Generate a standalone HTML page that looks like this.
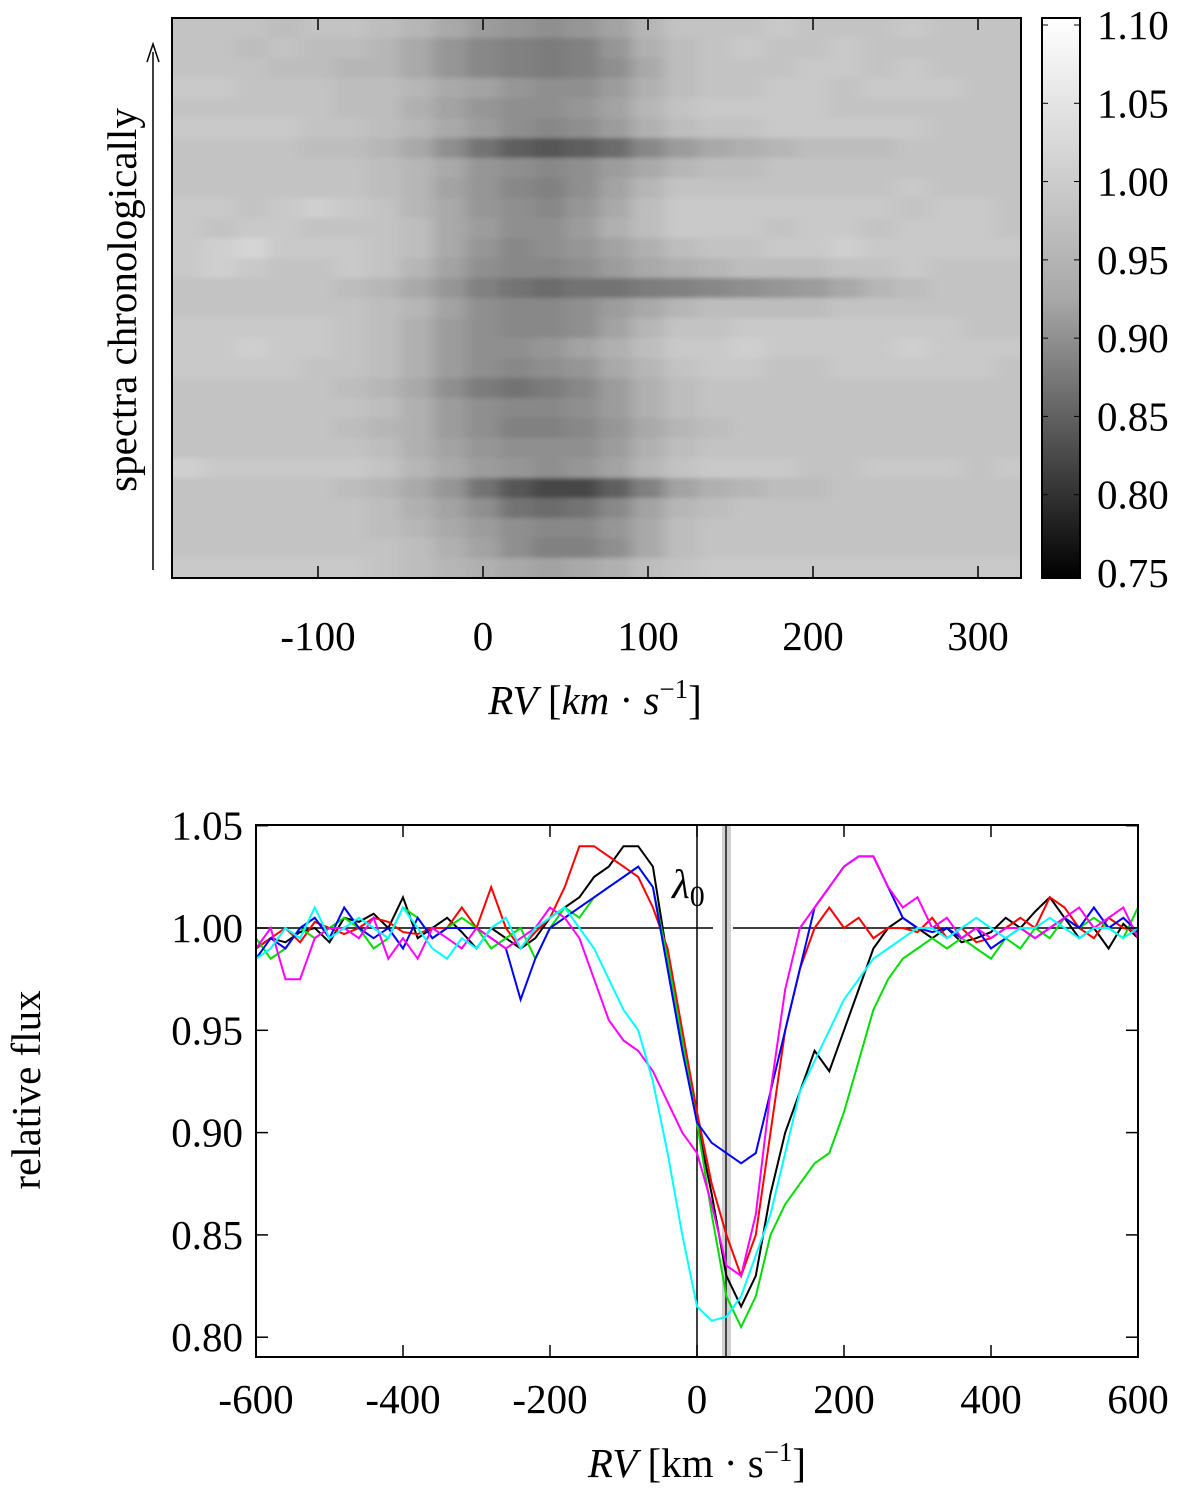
<!DOCTYPE html>
<html><head><meta charset="utf-8"><style>
html,body{margin:0;padding:0;background:#fff}
svg text{font-family:"Liberation Serif",serif;font-size:41px;fill:#000}
</style></head><body>
<svg id="s" width="1200" height="1491" viewBox="0 0 1200 1491" xmlns="http://www.w3.org/2000/svg">
<defs>
<clipPath id="hc"><rect x="172" y="18" width="849" height="560"/></clipPath>
<clipPath id="lc"><rect x="256" y="825" width="882" height="532"/></clipPath>
<filter id="bl" x="-5%" y="-5%" width="110%" height="110%"><feGaussianBlur stdDeviation="7 2"/></filter>
<linearGradient id="cb" x1="0" y1="0" x2="0" y2="1"><stop offset="0" stop-color="#fff"/><stop offset="0.5" stop-color="#a8a8a8"/><stop offset="1" stop-color="#000"/></linearGradient>
</defs>
<g id="heat" clip-path="url(#hc)"></g>
<rect x="172" y="18" width="849" height="560" fill="none" stroke="#000" stroke-width="2"/>
<g id="htick"></g>
<text x="595" y="714" text-anchor="middle"><tspan font-style="italic">RV</tspan> [<tspan font-style="italic">km</tspan> · <tspan font-style="italic">s</tspan><tspan font-size="27" dy="-16">−1</tspan><tspan dy="16">]</tspan></text>
<line x1="153" y1="570" x2="153" y2="52" stroke="#000" stroke-width="1.5"/>
<path d="M147,62 L153,44 L159,62" fill="none" stroke="#000" stroke-width="1.5"/>
<text transform="translate(136,300) rotate(-90)" text-anchor="middle">spectra chronologically</text>
<rect x="1042" y="18" width="38" height="560" fill="url(#cb)" stroke="#000" stroke-width="2"/>
<g id="cbt"></g>

<g id="lp"></g>
<text transform="translate(40,1090) rotate(-90)" text-anchor="middle">relative flux</text>
<text x="697" y="1477" text-anchor="middle"><tspan font-style="italic">RV</tspan> [km · s<tspan font-size="27" dy="-16">−1</tspan><tspan dy="16">]</tspan></text>
<text x="672" y="898" font-style="italic" font-size="44">λ<tspan font-style="normal" font-size="30" dy="8">0</tspan></text>
</svg>
<script>
// heatmap data
const hmRV=[-180,-160,-140,-120,-100,-80,-60,-40,-20,0,20,40,60,80,100,120,140,160,180,200,220,240,260,280,300,320];
const hmRows=[
[100,100,100,99,100,100,99,98,96,94,93,92,93,95,98,100,100,100,101,100,100,100,101,100,100,100],
[100,100,99,100,99,99,98,96,93,91,90,89,90,93,97,99,100,101,100,100,101,100,100,100,100,100],
[100,100,100,99,99,98,98,96,93,91,90,89,90,92,96,99,100,100,100,101,101,100,101,100,100,100],
[101,101,100,100,100,99,99,98,96,95,93,92,92,94,97,99,100,100,101,101,100,101,101,101,100,100],
[100,100,100,100,100,99,99,97,95,93,92,92,93,95,98,100,101,101,101,101,100,100,100,100,100,100],
[101,101,101,101,100,100,99,98,96,94,92,91,92,94,97,99,100,100,101,101,101,101,101,100,100,100],
[100,100,100,100,99,99,98,96,92,88,85,84,85,87,91,94,96,97,98,99,99,99,100,100,100,100],
[100,100,100,100,100,100,99,98,96,93,92,91,92,94,96,98,99,99,100,100,100,100,100,100,100,100],
[100,100,100,100,100,100,99,98,95,93,91,90,92,95,98,100,100,100,100,100,100,100,101,100,100,100],
[101,101,100,101,102,101,100,98,96,93,92,91,93,96,99,101,101,101,101,101,101,101,100,101,101,100],
[101,100,101,101,100,100,100,99,96,94,92,92,94,97,99,101,101,101,100,101,101,100,101,101,101,100],
[101,102,103,101,101,101,100,99,96,93,91,92,93,95,97,99,100,100,101,101,102,101,101,101,101,101],
[101,102,101,100,100,101,100,98,95,92,91,91,92,94,96,97,98,99,99,99,100,100,101,100,100,100],
[100,100,100,100,100,99,98,96,93,90,88,87,88,88,89,90,91,92,93,94,96,98,99,100,100,100],
[100,100,100,100,100,100,99,98,95,92,91,91,92,94,96,98,99,99,99,99,100,100,100,100,100,100],
[101,101,101,101,101,100,99,97,94,92,91,91,92,95,98,100,100,101,101,101,101,101,101,101,100,100],
[101,101,102,101,101,100,99,97,94,92,92,93,95,97,99,101,101,102,101,101,101,101,102,101,101,101],
[101,101,101,101,100,100,99,97,94,92,91,92,93,96,98,100,101,101,100,100,101,101,101,101,101,100],
[100,100,100,100,100,99,98,96,92,89,88,89,91,94,97,99,100,100,100,100,100,100,100,100,100,100],
[100,100,100,100,100,100,99,97,94,92,91,91,92,94,97,99,100,100,100,100,100,100,100,100,100,100],
[100,100,100,100,100,99,98,97,94,92,90,90,91,93,96,98,99,100,100,100,100,100,100,100,100,100],
[100,100,100,100,100,100,99,97,95,93,92,92,92,94,97,99,100,100,100,100,100,100,100,100,100,100],
[102,101,101,101,101,101,100,98,96,94,93,92,93,95,98,100,101,101,101,100,100,101,101,101,100,101],
[100,100,100,100,100,99,98,96,93,88,84,82,82,85,90,95,97,98,99,99,100,100,100,100,100,100],
[100,100,100,100,100,100,99,97,95,92,88,87,88,91,95,98,99,100,100,100,100,100,100,100,100,100],
[100,100,100,100,100,100,99,98,96,94,92,91,91,93,96,99,100,100,100,100,100,100,100,100,100,100],
[100,100,100,100,100,100,100,99,97,95,92,90,90,92,96,99,100,100,100,100,100,100,100,100,100,100],
[101,101,101,101,101,101,100,99,98,97,96,95,96,97,99,100,101,101,101,101,101,101,101,101,101,101]];
const hmTicks=[-100,0,100,200,300];
const cbTicks=["1.10","1.05","1.00","0.95","0.90","0.85","0.80","0.75"];
// line plot data
const rvGrid=[];for(let v=-600;v<=600;v+=20)rvGrid.push(v);
const sBlack=[990,995,993,998,1000,993,1005,1003,1007,1000,1015,995,1000,1005,998,990,1000,995,990,995,1005,1010,1015,1025,1030,1040,1040,1030,985,945,905,870,830,815,830,870,900,920,940,930,950,970,990,1000,1005,1000,995,1000,993,995,998,1005,1000,1008,1015,1005,995,1000,990,1002,995];
const sRed=[990,995,1000,993,1003,1000,997,1000,1005,1003,998,997,1000,1000,1010,1000,1020,1000,990,998,1005,1020,1040,1040,1035,1030,1025,1010,990,950,910,875,850,830,850,900,950,980,1000,1010,1000,1005,995,1000,1000,998,1005,995,1000,993,995,1000,1005,1000,1015,1010,1000,995,1005,1000,998];
const sGreen=[995,985,990,1000,995,1000,1005,1000,990,995,1010,1005,995,1000,1005,1000,990,995,1000,985,1000,1010,1005,1015,1020,1025,1030,1020,985,945,905,860,820,805,820,850,865,875,885,890,910,935,960,975,985,990,995,990,995,990,985,995,990,1000,995,1005,1000,1005,1000,995,1010];
const sBlue=[985,995,990,1000,1005,995,1010,1000,995,1000,990,1005,995,1000,1000,1000,995,990,965,985,1000,1005,1010,1015,1020,1025,1030,1020,980,940,905,895,890,885,890,920,950,980,1010,1020,1030,1035,1035,1020,1005,1000,998,1000,995,1000,990,995,1000,995,1000,1005,1000,1010,1000,1005,998];
const sMagenta=[990,1000,975,975,995,1000,1000,995,1005,985,995,985,1000,995,990,1000,995,990,995,1000,1010,1005,995,975,955,945,940,930,915,900,890,865,835,830,860,920,970,1000,1010,1020,1030,1035,1035,1020,1010,1015,1000,1005,995,1000,995,1000,1000,995,1000,1005,1010,1000,1005,1010,995];
const sCyan=[985,990,1000,995,1010,995,1000,1005,1000,995,1010,1000,990,985,995,990,1000,1005,990,1000,1005,1010,1000,990,975,960,950,925,890,850,815,808,810,820,840,860,890,920,935,950,965,975,985,990,995,1000,1000,995,1000,1005,1000,995,1000,1000,1005,1000,995,1000,1000,995,1000];
const lpXTicks=[-600,-400,-200,0,200,400,600];
const lpYTicks=[0.80,0.85,0.90,0.95,1.00,1.05];

const NS="http://www.w3.org/2000/svg";
function mk(t,a,p){const e=document.createElementNS(NS,t);for(const k in a)e.setAttribute(k,a[k]);p.appendChild(e);return e;}
const hx=v=>483+1.65*v;
const rowH=560/hmRows.length;
const heat=document.getElementById('heat');
const hg=mk('g',{filter:'url(#bl)'},heat);
const gray=v=>{const f=Math.max(0,Math.min(1,(v/100-0.75)/0.35));const g=Math.round(255*Math.pow(f,0.8));return `rgb(${g},${g},${g})`;};
mk('rect',{x:150,y:0,width:900,height:600,fill:gray(100)},hg);
hmRows.forEach((row,ri)=>{row.forEach((v,ci)=>{
 let x0=hx(hmRV[ci]-10),x1=hx(hmRV[ci]+10);
 if(ci===0)x0-=40; if(ci===row.length-1)x1+=40;
 let y0=18+ri*rowH,y1=y0+rowH+0.5;
 if(ri===0)y0-=20; if(ri===hmRows.length-1)y1+=20;
 const r=mk('rect',{x:x0,y:y0,width:x1-x0+0.5,height:y1-y0,fill:gray(v)},hg);
 
 
});});
const ht=document.getElementById('htick');
hmTicks.forEach(t=>{const x=hx(t);
 mk('line',{x1:x,y1:578,x2:x,y2:566,stroke:'#000','stroke-width':1.5},ht);
 mk('line',{x1:x,y1:18,x2:x,y2:30,stroke:'#000','stroke-width':1.5},ht);
 const tx=mk('text',{x:x,y:650,'text-anchor':'middle'},ht);tx.textContent=t;
 
 
});
const cbt=document.getElementById('cbt');
cbTicks.forEach((t,i)=>{const y=25+i*(548/7);
 mk('line',{x1:1042,y1:y,x2:1048,y2:y,stroke:'#000','stroke-width':1},cbt);
 mk('line',{x1:1080,y1:y,x2:1074,y2:y,stroke:'#000','stroke-width':1},cbt);
 const tx=mk('text',{x:1097,y:y+14},cbt);tx.textContent=t;
 
 
});
const lx=v=>697+v*0.735;
const ly=v=>928-(v-1)*2046;
const lp=document.getElementById('lp');
mk('rect',{x:722,y:825,width:9,height:532,fill:'#d0d0d0'},lp);
mk('line',{x1:256,y1:ly(1),x2:713,y2:ly(1),stroke:'#000','stroke-width':1.5},lp);
mk('line',{x1:733,y1:ly(1),x2:1138,y2:ly(1),stroke:'#000','stroke-width':1.5},lp);
mk('line',{x1:lx(0),y1:825,x2:lx(0),y2:1357,stroke:'#000','stroke-width':1.5},lp);
mk('line',{x1:726,y1:825,x2:726,y2:1357,stroke:'#444','stroke-width':2},lp);
const lines=mk('g',{'clip-path':'url(#lc)'},lp);
[[sBlack,'#000','series-black'],[sRed,'#f00','series-red'],[sGreen,'#0d0','series-green'],[sBlue,'#00f','series-blue'],[sMagenta,'#f0f','series-magenta'],[sCyan,'#0ff','series-cyan']].forEach(([d,c,n])=>{
 const pts=d.map((v,i)=>lx(rvGrid[i]).toFixed(1)+','+ly(v/1000).toFixed(1)).join(' ');
 const pl=mk('polyline',{points:pts,fill:'none',stroke:c,'stroke-width':2},lines);
 
 
});
mk('rect',{x:256,y:825,width:882,height:532,fill:'none',stroke:'#000','stroke-width':2},lp);
lpXTicks.forEach(t=>{const x=lx(t);
 mk('line',{x1:x,y1:1357,x2:x,y2:1345,stroke:'#000','stroke-width':1.5},lp);
 mk('line',{x1:x,y1:825,x2:x,y2:837,stroke:'#000','stroke-width':1.5},lp);
 const tx=mk('text',{x:x,y:1413,'text-anchor':'middle'},lp);tx.textContent=t;
 
 
});
lpYTicks.forEach(t=>{const y=ly(t);
 mk('line',{x1:256,y1:y,x2:268,y2:y,stroke:'#000','stroke-width':1.5},lp);
 mk('line',{x1:1138,y1:y,x2:1126,y2:y,stroke:'#000','stroke-width':1.5},lp);
 const tx=mk('text',{x:243,y:y+14,'text-anchor':'end'},lp);tx.textContent=t.toFixed(2);
 
 
});
</script>
</body></html>
